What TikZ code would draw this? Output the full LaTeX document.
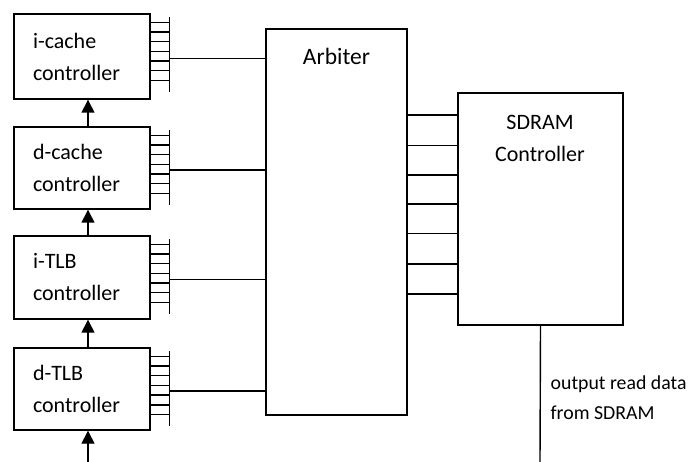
\documentclass[tikz,border=0pt]{standalone}
\usepackage{fontspec}
\setmainfont{Carlito}
\usetikzlibrary{arrows.meta}
\begin{document}
\begin{tikzpicture}[x=1pt,y=-1pt,
  line width=1.4pt,
  ctrlbox/.style={draw, rectangle, text width=98pt, inner xsep=19pt, inner ysep=0pt,
    minimum width=136pt, align=left, font=\fontsize{22}{32}\selectfont},
  bigbox/.style={draw, rectangle, inner sep=0pt},
  lbl/.style={inner sep=0pt, font=\fontsize{22}{32}\selectfont, align=center},
  arblbl/.style={inner sep=0pt, font=\fontsize{23.5}{32}\selectfont},
  smalllbl/.style={inner sep=0pt, font=\fontsize{19.8}{30}\selectfont, align=left, anchor=west},
  wire/.style={line width=1.4pt},
  uparrow/.style={-{Triangle[width=13pt,length=13pt]}, line width=1.4pt}
]
\useasboundingbox (0,0) rectangle (688,462);

% controller boxes
\node[ctrlbox, minimum height=85pt] (icache) at (82,56.5) {i-cache\\controller};
\node[ctrlbox, minimum height=82pt] (dcache) at (82,168) {d-cache\\controller};
\node[ctrlbox, minimum height=83pt] (itlb) at (82,277.5) {i-TLB\\controller};
\node[ctrlbox, minimum height=82pt] (dtlb) at (82,389) {d-TLB\\controller};

% arbiter and SDRAM controller
\node[bigbox, minimum width=141pt, minimum height=386pt] (arb) at (336.5,222) {};
\node[arblbl] (arbtext) at (336.5,56) {Arbiter};
\node[bigbox, minimum width=165pt, minimum height=232pt] (sdram) at (540.5,209) {};
\node[lbl] (sdramtext) at (540,138.5) {SDRAM\\Controller};

% combs and links to arbiter
\foreach \b in {icache,dcache,itlb,dtlb}{
  \coordinate (\b-c) at ([xshift=19pt]\b.north east);
  \draw[wire] ([yshift=-4pt]\b-c) -- ([yshift=-79pt]\b-c);
  \foreach \k in {0,...,6}{
    \draw[wire] ([yshift={-9-9.7*\k}]\b.north east) -- ([yshift={-9-9.7*\k}]\b-c);
  }
  \coordinate (\b-o) at ([xshift=19pt,yshift=-2pt]\b.east);
  \draw[wire] (\b-o) -- (arb.west |- \b-o);
}

% arbiter to SDRAM links
\foreach \y in {115,145.6,175,204,233.5,264,294}{
  \coordinate (m) at (0,\y);
  \draw[wire] (arb.east |- m) -- (sdram.west |- m);
}

% arrows between controllers
\draw[uparrow] ([xshift=6pt]dcache.north) -- ([xshift=6pt]icache.south);
\draw[uparrow] ([xshift=6pt]itlb.north) -- ([xshift=6pt]dcache.south);
\draw[uparrow] ([xshift=6pt]dtlb.north) -- ([xshift=6pt]itlb.south);
\coordinate (inbot) at (88,462);
\draw[uparrow] (inbot) -- ([xshift=6pt]dtlb.south);

% SDRAM output
\coordinate (outbot) at (540,462);
\draw[wire] (sdram.south) -- (outbot);
\node[smalllbl] (outtext) at (550,398) {output read data\\from SDRAM};
\end{tikzpicture}
\end{document}
